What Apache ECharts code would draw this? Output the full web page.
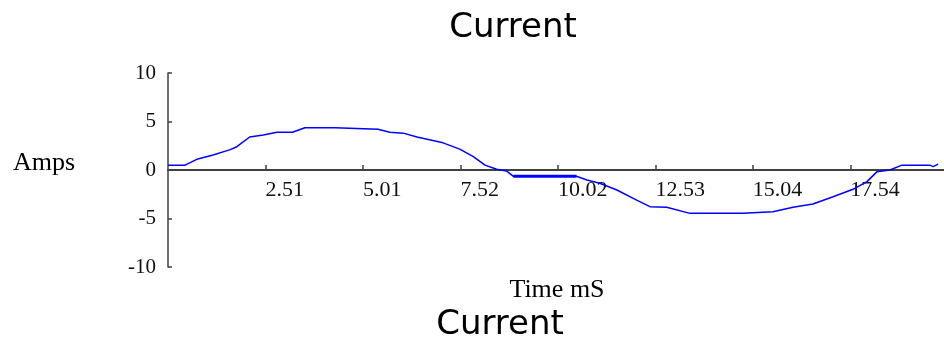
<!DOCTYPE html>
<html>
<head>
<meta charset="utf-8">
<script src="https://cdn.jsdelivr.net/npm/echarts@6/dist/echarts.min.js"></script>
<style>html,body{margin:0;padding:0;background:#fff}#c{width:944px;height:350px}</style>
</head>
<body>
<div id="c"></div>
<script>
// Time in ms
var timeMs = [0, 0.44, 0.74, 1.16, 1.6, 1.77, 2.1, 2.45, 2.8, 3.2, 3.52, 4.29, 4.34, 5.4, 5.7, 6.05, 6.4, 7.07, 7.5, 7.85, 8.15, 8.45, 8.7, 8.88, 10.5, 10.77, 11.1, 11.54, 12.05, 12.39, 12.82, 13.42, 14.78, 15.55, 16.07, 16.58, 17.1, 17.61, 17.97, 18.23, 18.56, 18.87, 19.59, 19.67, 19.8];
// Current in amps
var amps = [0.5, 0.5, 1.1, 1.55, 2.1, 2.4, 3.4, 3.6, 3.9, 3.9, 4.36, 4.36, 4.2, 4.2, 3.9, 3.8, 3.4, 2.8, 2.15, 1.37, 0.5, 0.07, -0.1, -0.65, -0.65, -1.03, -1.37, -2.06, -3.1, -3.78, -3.85, -4.47, -4.47, -4.3, -3.85, -3.5, -2.75, -1.99, -1.2, -0.17, 0, 0.5, 0.5, 0.35, 0.6];
// indices of the flat (heavier-drawn) segment
var flatSegment = [23, 24];
var xTickInterval = 2.506;
var yTicks = [-10, -5, 0, 5, 10];

var chart = echarts.init(document.getElementById('c'));
var serif = '"Liberation Serif", "DejaVu Serif", serif';
var axisColor = '#404040';
var pts = timeMs.map(function (t, i) { return [t, amps[i]]; });
chart.setOption({
  backgroundColor: '#ffffff',
  animation: false,
  grid: { left: 168, top: 73, width: 776, height: 194 },
  xAxis: {
    type: 'value', min: 0, max: 19.95, interval: xTickInterval,
    position: 'bottom', offset: -97,
    axisLine: { onZero: false, lineStyle: { color: axisColor, width: 2 } },
    axisTick: { show: true, inside: true, length: 5, lineStyle: { color: axisColor, width: 1.5 } },
    axisLabel: {
      showMinLabel: false, showMaxLabel: false, align: 'left', margin: 9,
      fontFamily: serif, fontSize: 22, color: '#111',
      formatter: function (v) { return v.toFixed(2); }
    },
    splitLine: { show: false }
  },
  yAxis: {
    type: 'value', min: yTicks[0], max: yTicks[yTicks.length - 1], interval: 5,
    axisLine: { show: true, lineStyle: { color: axisColor, width: 1.5 } },
    axisTick: { show: true, inside: true, length: 4, lineStyle: { color: axisColor, width: 1.5 } },
    axisLabel: { fontFamily: serif, fontSize: 21, color: '#111', margin: 12 },
    splitLine: { show: false }
  },
  series: [{
    type: 'line',
    data: pts,
    showSymbol: false,
    lineStyle: { color: '#0000ff', width: 1.5 },
    z: 3
  }, {
    type: 'line',
    data: flatSegment.map(function (i) { return pts[i]; }),
    showSymbol: false,
    lineStyle: { color: '#0000ff', width: 3 },
    z: 3
  }],
  graphic: [
    { type: 'text', x: 513, y: 28, style: { text: 'Current', font: '34px "DejaVu Sans"', fill: '#000', textAlign: 'center', textVerticalAlign: 'middle' } },
    { type: 'text', x: 500, y: 325, style: { text: 'Current', font: '34px "DejaVu Sans"', fill: '#000', textAlign: 'center', textVerticalAlign: 'middle' } },
    { type: 'text', x: 557, y: 290, style: { text: 'Time mS', font: '26px ' + serif, fill: '#000', textAlign: 'center', textVerticalAlign: 'middle' } },
    { type: 'text', x: 44, y: 163, style: { text: 'Amps', font: '26px ' + serif, fill: '#000', textAlign: 'center', textVerticalAlign: 'middle' } }
  ]
});
</script>
</body>
</html>
